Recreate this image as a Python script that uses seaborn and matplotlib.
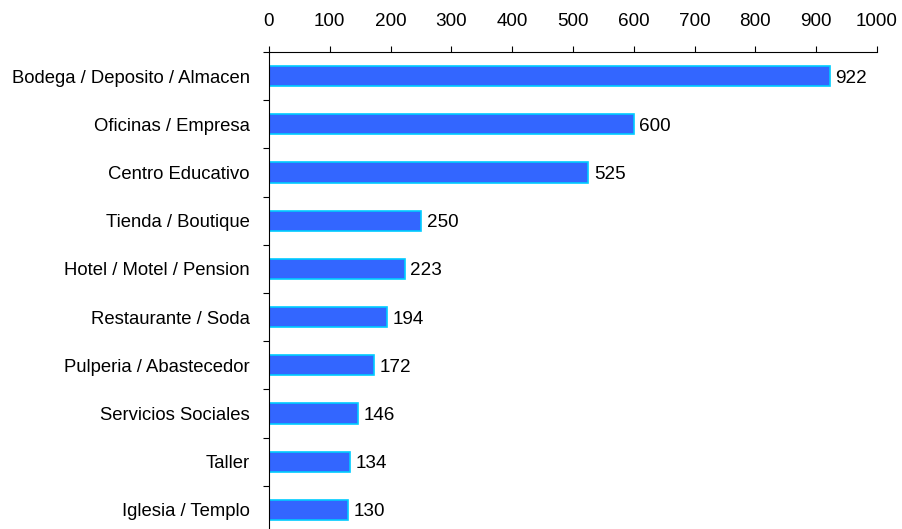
import matplotlib
matplotlib.use("Agg")
import matplotlib.pyplot as plt
import seaborn as sns
import pandas as pd
import numpy as np

categories = ['Bodega / Deposito / Almacen', 'Oficinas / Empresa', 'Centro Educativo',
              'Tienda / Boutique', 'Hotel / Motel / Pension', 'Restaurante / Soda',
              'Pulperia / Abastecedor', 'Servicios Sociales', 'Taller', 'Iglesia / Templo']
values = [922, 600, 525, 250, 223, 194, 172, 146, 134, 130]
x_ticks = [0, 100, 200, 300, 400, 500, 600, 700, 800, 900, 1000]

df = pd.DataFrame({'tipo': categories, 'cantidad': values})

sns.set_style('white')
plt.rcParams['font.family'] = ['Liberation Sans', 'DejaVu Sans']

fig = plt.figure(figsize=(9.02, 5.29), dpi=100)
ax = fig.add_axes([269 / 902, -5 / 529, (877 - 269) / 902, (534 - 52) / 529])

sns.barplot(data=df, x='cantidad', y='tipo', orient='h', color='#3366FF',
            width=0.42, edgecolor='#00CCFF', linewidth=1.2, saturation=1, ax=ax)

# value labels just right of each bar
for i, v in enumerate(values):
    ax.annotate(str(v), (v, i), xytext=(4, 0), textcoords='offset points',
                va='center_baseline', ha='left', fontsize=13.6, color='black')

ax.set_xlim(0, 1000)
ax.set_ylim(len(categories) - 0.5, -0.5)
ax.set_xticks(x_ticks)
ax.xaxis.tick_top()
ax.tick_params(axis='x', direction='out', length=4, width=0.8, pad=12,
               labelsize=13.6, colors='black')
ax.set_yticks(np.arange(len(categories)))
ax.set_yticks(np.arange(len(categories) + 1) - 0.5, minor=True)
ax.tick_params(axis='y', which='major', length=0, pad=14, labelsize=13.3,
               labelcolor='black')
ax.tick_params(axis='y', which='minor', direction='out', length=4, width=0.8,
               left=True, color='black')
ax.set_xlabel('')
ax.set_ylabel('')

for side in ['right', 'bottom']:
    ax.spines[side].set_visible(False)
for side in ['top', 'left']:
    ax.spines[side].set_color('black')
    ax.spines[side].set_linewidth(0.8)

fig.savefig('out.png', dpi=100)
